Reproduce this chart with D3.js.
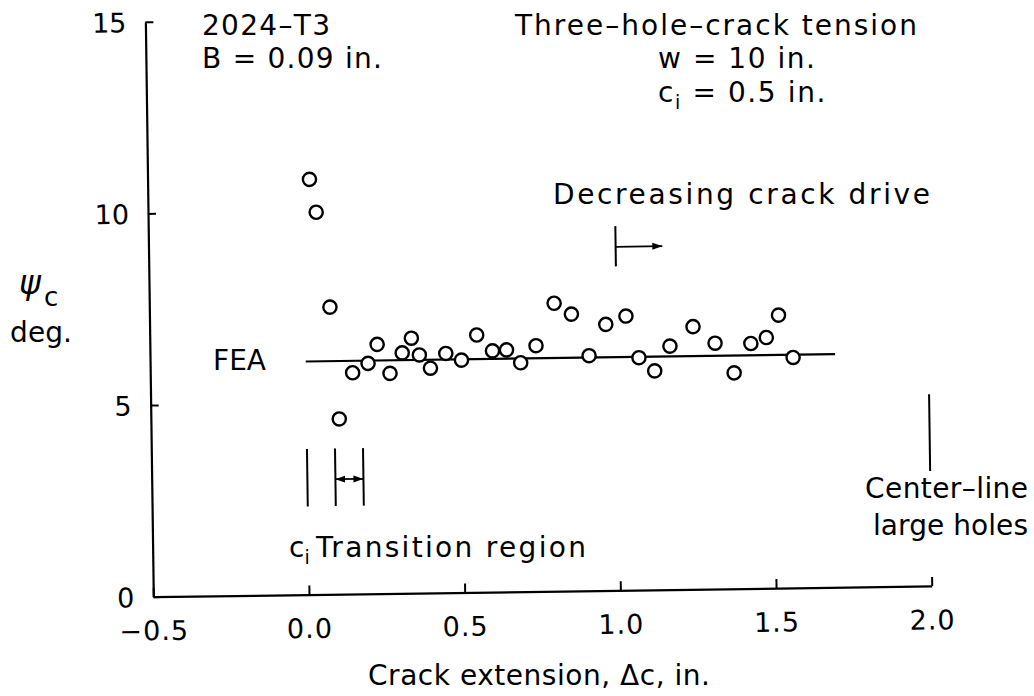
<!DOCTYPE html>
<html>
<head>
<meta charset="utf-8">
<script src="https://cdn.jsdelivr.net/npm/d3@7"></script>
<style>
  html, body { margin: 0; padding: 0; background: #ffffff; }
  svg text { font-family: "DejaVu Sans", "Liberation Sans", sans-serif; fill: #000; }
</style>
</head>
<body>
<svg id="chart" width="1034" height="696"></svg>
<script>
// ---- data ----
const crackExtension = [0.02, 0.04, 0.08, 0.105, 0.15, 0.20, 0.23, 0.27, 0.31, 0.34, 0.365, 0.40,
  0.45, 0.50, 0.55, 0.60, 0.645, 0.69, 0.74, 0.80, 0.855, 0.91, 0.965, 1.03, 1.07, 1.12, 1.17,
  1.245, 1.315, 1.375, 1.43, 1.48, 1.52, 1.565];
const psiC = [10.83, 9.97, 7.49, 4.57, 5.77, 6.01, 6.50, 5.74, 6.27, 6.65, 6.21, 5.86,
  6.24, 6.06, 6.71, 6.29, 6.31, 5.97, 6.41, 7.51, 7.22, 6.13, 6.94, 7.15, 6.06, 5.71, 6.35,
  6.85, 6.41, 5.63, 6.39, 6.54, 7.12, 6.01];
const feaX = [0.0, 1.7];
const feaPsi = [6.08, 6.08];
const xTickValues = [-0.5, 0.0, 0.5, 1.0, 1.5, 2.0];
const yTickValues = [0, 5, 10, 15];
const xDomain = [-0.5, 2.0];
const yDomain = [0, 15];
const transitionMarks = [0.0, 0.09, 0.18];
const transitionSpan = [2.3, 3.8];
const transitionArrowPsi = 3.0;
const driveMarkX = [1.0, 1.15];
const driveMarkPsi = [8.45, 9.5];
const driveArrowPsi = 8.96;
const centerLineX = 2.0;
const centerLineSpan = [3.0, 5.0];

// ---- layout ----
const svg = d3.select("#chart");
const origin = [153.3, 596.7];
const plotW = 778.5, plotH = 575;
const tilt = -0.79;

const defs = svg.append("defs");
defs.append("marker").attr("id", "ah").attr("viewBox", "0 0 10 10")
  .attr("refX", 10).attr("refY", 5).attr("markerWidth", 10).attr("markerHeight", 10)
  .attr("markerUnits", "userSpaceOnUse").attr("orient", "auto-start-reverse")
  .append("path").attr("d", "M0,1.5 L10,5 L0,8.5 Z").attr("fill", "#000");

const x = d3.scaleLinear().domain(xDomain).range([0, plotW]);
const y = d3.scaleLinear().domain(yDomain).range([0, -plotH]);

const g = svg.append("g")
  .attr("transform", `translate(${origin[0]},${origin[1]}) rotate(${tilt})`);

// x axis
const xAxis = d3.axisBottom(x).tickValues(xTickValues).tickSizeInner(-9).tickSizeOuter(0)
  .tickPadding(0).tickFormat(d3.format(".1f"));
const gx = g.append("g").call(xAxis);
gx.select(".domain").attr("stroke-width", 2.2);
gx.selectAll(".tick line").attr("stroke-width", 2);
gx.selectAll("text").attr("dy", null).attr("y", 43.5)
  .attr("font-size", 27).attr("font-family", "DejaVu Sans").attr("letter-spacing", 1);

// y axis
const yAxis = d3.axisLeft(y).tickValues(yTickValues).tickSizeInner(-8).tickSizeOuter(0)
  .tickPadding(19).tickFormat(d3.format("d"));
const gy = g.append("g").call(yAxis);
gy.select(".domain").attr("stroke-width", 2.2);
gy.selectAll(".tick line").attr("stroke-width", 2);
gy.selectAll("text").attr("dy", "0.36em")
  .attr("font-size", 27).attr("font-family", "DejaVu Sans");

// FEA line
const fea = feaX.map((v, i) => [v, feaPsi[i]]);
g.append("path").datum(fea)
  .attr("d", d3.line().x(d => x(d[0])).y(d => y(d[1])))
  .attr("fill", "none").attr("stroke", "#000").attr("stroke-width", 2.2);

// test points
g.append("g").selectAll("circle")
  .data(crackExtension.map((v, i) => [v, psiC[i]]))
  .join("circle")
  .attr("cx", d => x(d[0])).attr("cy", d => y(d[1])).attr("r", 6.6)
  .attr("fill", "#fff").attr("stroke", "#000").attr("stroke-width", 2.4);

// transition region marks
g.append("g").selectAll("line").data(transitionMarks).join("line")
  .attr("x1", d => x(d)).attr("x2", d => x(d))
  .attr("y1", y(transitionSpan[0])).attr("y2", y(transitionSpan[1]))
  .attr("stroke", "#000").attr("stroke-width", 2);
g.append("line")
  .attr("x1", x(transitionMarks[1])).attr("x2", x(transitionMarks[2]))
  .attr("y1", y(transitionArrowPsi)).attr("y2", y(transitionArrowPsi))
  .attr("stroke", "#000").attr("stroke-width", 1.8)
  .attr("marker-start", "url(#ah)").attr("marker-end", "url(#ah)");

// decreasing crack drive mark
g.append("line")
  .attr("x1", x(driveMarkX[0])).attr("x2", x(driveMarkX[0]))
  .attr("y1", y(driveMarkPsi[0])).attr("y2", y(driveMarkPsi[1]))
  .attr("stroke", "#000").attr("stroke-width", 2);
g.append("line")
  .attr("x1", x(driveMarkX[0])).attr("x2", x(driveMarkX[1]))
  .attr("y1", y(driveArrowPsi)).attr("y2", y(driveArrowPsi))
  .attr("stroke", "#000").attr("stroke-width", 1.8)
  .attr("marker-end", "url(#ah)");

// center-line of large holes
g.append("line")
  .attr("x1", x(centerLineX)).attr("x2", x(centerLineX))
  .attr("y1", y(centerLineSpan[0])).attr("y2", y(centerLineSpan[1]))
  .attr("stroke", "#000").attr("stroke-width", 2);

// ---- text ----
function label(txt, xp, yp, opts = {}) {
  const t = svg.append("text").attr("x", xp).attr("y", yp)
    .attr("font-size", opts.size || 28)
    .attr("text-anchor", opts.anchor || "start");
  if (opts.len) t.attr("textLength", opts.len).attr("lengthAdjust", "spacing");
  if (opts.ls) t.attr("letter-spacing", opts.ls);
  t.text(txt);
  return t;
}
label("2024\u2013T3", 202, 35, {len: 128});
label("B = 0.09 in.", 202, 68, {len: 180});
label("Three\u2013hole\u2013crack tension", 515, 35, {len: 402});
label("w = 10 in.", 658, 68, {len: 157});

const ci = svg.append("text").attr("x", 658).attr("y", 102).attr("font-size", 28).attr("letter-spacing", 1.6);
ci.append("tspan").text("c");
ci.append("tspan").attr("font-size", 19).attr("dy", 7).text("i");
ci.append("tspan").attr("dy", -7).text(" = 0.5 in.");

label("Decreasing crack drive", 553, 204, {len: 377});
label("FEA", 213, 370, {len: 53});

const ct = svg.append("text").attr("x", 289).attr("y", 557).attr("font-size", 28);
ct.append("tspan").text("c");
ct.append("tspan").attr("font-size", 19).attr("dy", 7).text("i");
label("Transition region", 316, 557, {len: 270});

label("Center\u2013line", 1028, 498, {anchor: "end", len: 163});
label("large holes", 1028, 535, {anchor: "end", len: 155});

label("Crack extension, \u0394c, in.", 368, 685, {len: 342});

// y-axis title
svg.append("text").attr("x", 19).attr("y", 294).attr("font-size", 33)
  .attr("font-style", "italic").text("\u03c8");
svg.append("text").attr("x", 44).attr("y", 306).attr("font-size", 26).text("c");
label("deg.", 10, 342, {len: 62});
</script>
</body>
</html>
